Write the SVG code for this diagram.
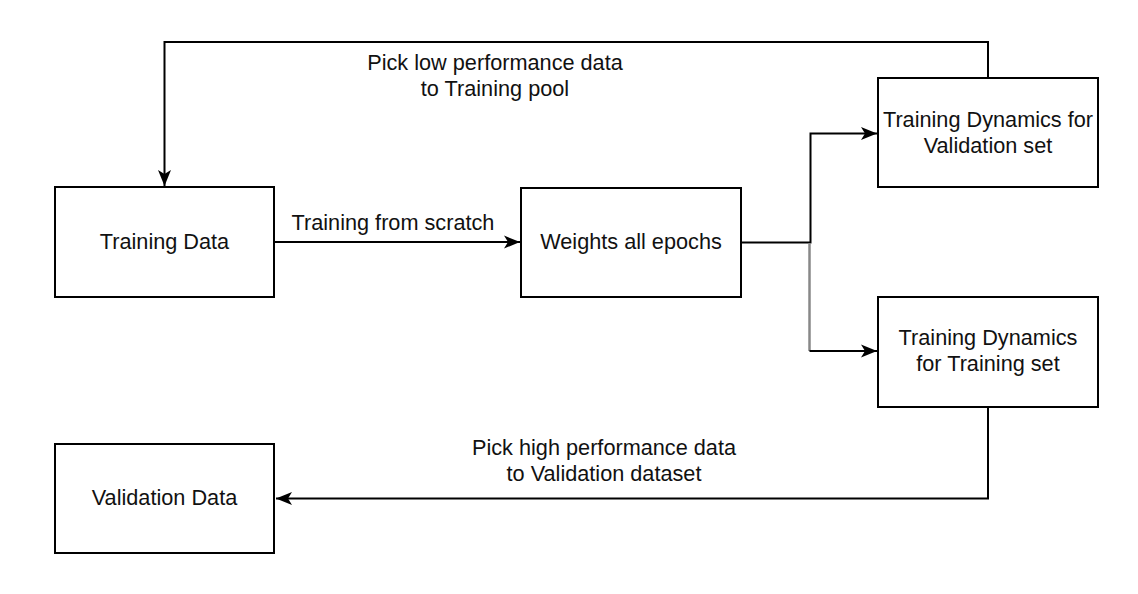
<svg xmlns="http://www.w3.org/2000/svg" width="1138" height="594" viewBox="0 0 1138 594">
<style>
.box{fill:#fff;stroke:#000;stroke-width:2}
.t{font-family:"Liberation Sans",Arial,sans-serif;font-size:21.7px;fill:#111;text-anchor:middle}
.c{fill:none;stroke:#000;stroke-width:2}
</style>
<defs>
<marker id="ah" markerUnits="userSpaceOnUse" markerWidth="18" markerHeight="18" viewBox="0 0 18 18" refX="17" refY="9" orient="auto">
<path d="M1,2.5 L17,9 L1,15.5 L5,9 Z" fill="#000"/>
</marker>
</defs>
<rect width="1138" height="594" fill="#fff"/>
<g id="connectors">
<path class="c" d="M988,78 V42 H164.5 V186" marker-end="url(#ah)"/>
<path class="c" d="M274,242 H520" marker-end="url(#ah)"/>
<path class="c" d="M741,242.5 H810.5 V133.5 H877" marker-end="url(#ah)"/>
<path d="M809.5,243 V351" fill="none" stroke="#888" stroke-width="2.5"/>
<path class="c" d="M809.5,351 H877" marker-end="url(#ah)"/>
<path class="c" d="M988,407 V498.5 H276" marker-end="url(#ah)"/>
<text class="t" x="495" y="70">Pick low performance data</text>
<text class="t" x="495" y="96">to Training pool</text>
<text class="t" x="393" y="230">Training from scratch</text>
<text class="t" x="604" y="455">Pick high performance data</text>
<text class="t" x="604" y="481">to Validation dataset</text>
</g>
<g id="training-data">
<rect class="box" x="55" y="187" width="219" height="110"/>
<text class="t" x="164.5" y="249">Training Data</text>
</g>
<g id="weights">
<rect class="box" x="521" y="188" width="220" height="109"/>
<text class="t" x="631" y="249">Weights all epochs</text>
</g>
<g id="td-validation">
<rect class="box" x="878" y="78" width="220" height="109"/>
<text class="t" x="988" y="127">Training Dynamics for</text>
<text class="t" x="988" y="153">Validation set</text>
</g>
<g id="td-training">
<rect class="box" x="878" y="297" width="220" height="110"/>
<text class="t" x="988" y="345">Training Dynamics</text>
<text class="t" x="988" y="371">for Training set</text>
</g>
<g id="validation-data">
<rect class="box" x="55" y="444" width="219" height="109"/>
<text class="t" x="164.5" y="505">Validation Data</text>
</g>
</svg>
